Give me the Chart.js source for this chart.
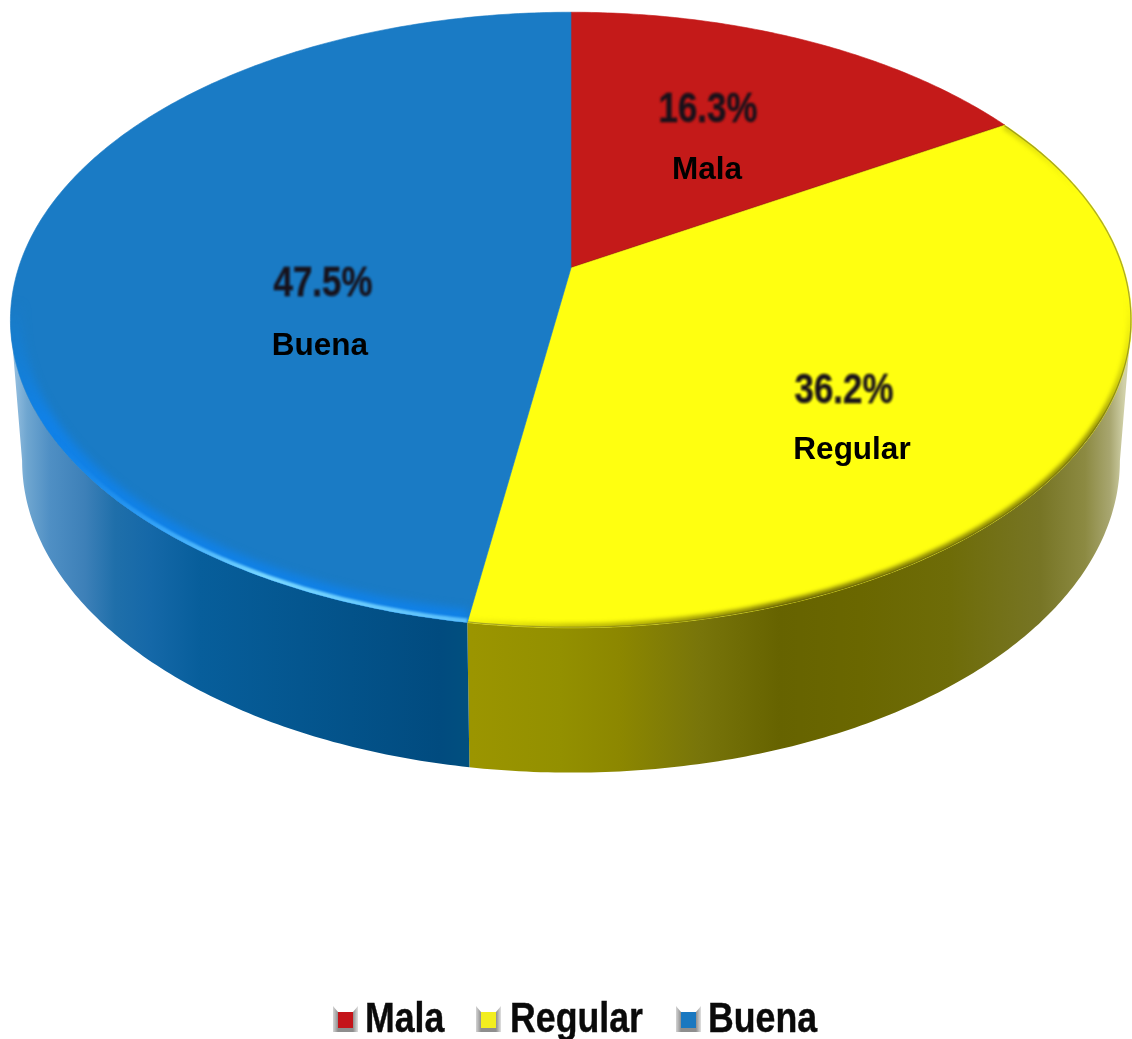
<!DOCTYPE html>
<html>
<head>
<meta charset="utf-8">
<title>Mala / Regular / Buena</title>
<script src="https://cdn.jsdelivr.net/npm/chart.js@4"></script>
<style>
  html, body { margin: 0; padding: 0; background: #fff; }
  canvas { display: block; }
</style>
</head>
<body>
<canvas id="pie" width="1132" height="1039"></canvas>
<script>
const categories = ["Mala", "Regular", "Buena"];
const percentages = [16.3, 36.2, 47.5];

const topColors = ["#c41a19", "#ffff10", "#1a7bc5"];
const legendColors = ["#c4141a", "#f2ee20", "#1a78c0"];

// Horizontal shading of the side wall, [x, colour]
const wallShades = [
  [[0, "#7d1010"], [1132, "#7d1010"]],
  [[472, "#9b9500"], [560, "#939000"], [620, "#8c8700"], [700, "#78750a"], [780, "#666300"], [860, "#6a6700"],
   [950, "#6e6c08"], [1040, "#777525"], [1085, "#8c8a42"], [1110, "#a8a670"], [1124, "#d0d0a8"]],
  [[16, "#8fbbdd"], [27, "#6fa6d0"], [50, "#4f8fc4"], [85, "#3d80b8"], [115, "#1f6faa"],
   [150, "#1568a8"], [200, "#075e9b"], [300, "#04568f"], [440, "#014b7f"], [471, "#01507f"]]
];

// Where the circle ends up on the canvas: top face and bottom face
const topFace = { x: 571, y: 268, a: 552.5, b: 299, k: 0.169 };
const bottomFace = { x: 571, y: 408, a: 541, b: 303, k: 0.169 };

// Text block centres for each slice
const percentAt = [[708, 110], [844, 391], [323, 284]];
const nameAt = [[707, 170], [852, 450], [320, 346]];
const legendAt = [[333, 365], [476, 510], [676, 708]];

function project(face, angle, r) {
  // Chart.js angles start at -PI/2 (12 o'clock)
  const t = angle + Math.PI / 2;
  const X = Math.sin(t) * r;
  const Y = Math.cos(t) * r;
  const d = 1 + face.k * Y;
  return [face.x + face.a * X / d, face.y - face.b * Y / d];
}

function traceRim(ctx, face, from, to) {
  const steps = Math.max(2, Math.ceil(Math.abs(to - from) * 90));
  for (let i = 0; i <= steps; i++) {
    const p = project(face, from + (to - from) * i / steps, 1);
    ctx.lineTo(p[0], p[1]);
  }
}

// Only the part of the wall between the two tangent edges faces the viewer
function drawWall(ctx, arc, i) {
  const tangent = Math.acos(-topFace.k);
  const from = Math.max(arc.startAngle, -Math.PI / 2 + tangent);
  const to = Math.min(arc.endAngle, 1.5 * Math.PI - tangent);
  if (to <= from) return;
  const grad = ctx.createLinearGradient(0, 0, 1132, 0);
  wallShades[i].forEach(s => grad.addColorStop(s[0] / 1132, s[1]));
  ctx.beginPath();
  traceRim(ctx, topFace, from, to);
  traceRim(ctx, bottomFace, to, from);
  ctx.closePath();
  ctx.fillStyle = grad;
  ctx.fill();
}

function traceSlice(ctx, arc) {
  ctx.beginPath();
  ctx.moveTo(topFace.x, topFace.y);
  traceRim(ctx, topFace, arc.startAngle, arc.endAngle);
  ctx.closePath();
}

function strokeRim(ctx, arc, from, to, width, style, blur) {
  ctx.save();
  traceSlice(ctx, arc);
  ctx.clip();
  ctx.beginPath();
  traceRim(ctx, topFace, from, to);
  ctx.lineWidth = width;
  ctx.strokeStyle = style;
  ctx.lineCap = "butt";
  if (blur) ctx.filter = "blur(" + blur + "px)";
  ctx.stroke();
  ctx.restore();
}

function drawTop(ctx, arc, i) {
  traceSlice(ctx, arc);
  ctx.fillStyle = topColors[i];
  ctx.fill();
  ctx.strokeStyle = topColors[i];
  ctx.lineWidth = 0.6;
  ctx.stroke();

  if (i === 1) {
    // thin olive edge on the back, soft dark lip along the front
    strokeRim(ctx, arc, arc.startAngle, arc.endAngle, 2.5, "rgba(140,140,50,0.75)", 0);
    const g = ctx.createLinearGradient(1130, 300, 470, 622);
    g.addColorStop(0, "rgba(110,105,0,0)");
    g.addColorStop(0.12, "rgba(110,105,0,0.7)");
    g.addColorStop(0.6, "rgba(105,100,0,0.9)");
    g.addColorStop(0.88, "rgba(150,145,0,0.55)");
    g.addColorStop(1, "rgba(170,165,0,0.1)");
    strokeRim(ctx, arc, arc.startAngle, arc.endAngle, 9, g, 2);
  }
  if (i === 2) {
    // soft inner glow and bright highlight on the blue rim
    const glow = ctx.createLinearGradient(0, 300, 0, 420);
    glow.addColorStop(0, "rgba(15,130,225,0)");
    glow.addColorStop(1, "rgba(15,130,235,0.9)");
    strokeRim(ctx, arc, arc.startAngle, arc.startAngle + 1.9, 26, glow, 4);
    const hi = ctx.createLinearGradient(60, 420, 470, 622);
    hi.addColorStop(0, "rgba(30,140,235,0)");
    hi.addColorStop(0.3, "rgba(60,170,250,0.85)");
    hi.addColorStop(0.55, "rgba(120,215,255,1)");
    hi.addColorStop(1, "rgba(90,190,250,1)");
    strokeRim(ctx, arc, arc.startAngle, arc.startAngle + 1.6, 8, hi, 0.8);
  } else if (i === 0) {
    // dark seam where red meets yellow
    ctx.beginPath();
    ctx.moveTo(topFace.x, topFace.y);
    const end = project(topFace, arc.endAngle, 1);
    ctx.lineTo(end[0], end[1]);
    ctx.strokeStyle = "rgba(120,30,10,0.7)";
    ctx.lineWidth = 1.6;
    ctx.stroke();
  }
}

// Bold text squeezed horizontally, as the percentages and the legend are condensed
function narrowText(ctx, text, x, y, align, squeeze) {
  ctx.save();
  ctx.translate(x, y);
  ctx.scale(squeeze, 1);
  ctx.textAlign = align;
  ctx.lineWidth = 0.4;
  ctx.strokeStyle = ctx.fillStyle;
  ctx.strokeText(text, 0, 0);
  ctx.fillText(text, 0, 0);
  ctx.restore();
}

function drawLabels(ctx, meta) {
  ctx.save();
  ctx.textBaseline = "middle";
  meta.data.forEach((arc, i) => {
    ctx.save();
    ctx.filter = "blur(0.8px)";
    ctx.font = 'bold 42px "Liberation Sans", Arial';
    ctx.fillStyle = "#17111a";
    narrowText(ctx, percentages[i].toFixed(1) + "%", percentAt[i][0], percentAt[i][1], "center", 0.83);
    ctx.restore();
    ctx.font = 'bold 31.5px "Liberation Sans", Arial';
    ctx.fillStyle = "#000";
    ctx.textAlign = "center";
    ctx.fillText(categories[i], nameAt[i][0], nameAt[i][1]);
  });
  ctx.restore();
}

function drawLegend(ctx) {
  const y = 1005;
  categories.forEach((name, i) => {
    const x = legendAt[i][0];
    const side = ctx.createLinearGradient(x, 0, x + 25, 0);
    side.addColorStop(0, "#d4d4d4");
    side.addColorStop(0.2, "#8e8e8e");
    side.addColorStop(0.8, "#8e8e8e");
    side.addColorStop(1, "#e0e0e0");
    ctx.save();
    ctx.filter = "blur(0.6px)";
    ctx.fillStyle = side;
    ctx.beginPath();
    ctx.moveTo(x, y + 1);
    ctx.lineTo(x + 5, y + 7);
    ctx.lineTo(x + 20, y + 7);
    ctx.lineTo(x + 25, y + 1);
    ctx.lineTo(x + 25, y + 27);
    ctx.lineTo(x, y + 27);
    ctx.closePath();
    ctx.fill();
    ctx.fillStyle = legendColors[i];
    ctx.fillRect(x + 5, y + 7, 15, 16);
    ctx.font = 'bold 42px "Liberation Sans", Arial';
    ctx.textBaseline = "alphabetic";
    ctx.fillStyle = "#0a0a0a";
    narrowText(ctx, name, legendAt[i][1], 1032, "left", 0.85);
    ctx.restore();
  });
}

// Replaces the flat arc drawing with a tilted disc built from the arc angles
const tiltedPie = {
  id: "tiltedPie",
  beforeDatasetsDraw(chart) {
    const ctx = chart.ctx;
    const meta = chart.getDatasetMeta(0);
    meta.data.forEach((arc, i) => drawWall(ctx, arc, i));
    meta.data.forEach((arc, i) => drawTop(ctx, arc, i));
    drawLabels(ctx, meta);
    drawLegend(ctx);
    return false;
  }
};

new Chart(document.getElementById("pie"), {
  type: "pie",
  data: {
    labels: categories,
    datasets: [{ data: percentages, backgroundColor: topColors, borderWidth: 0 }]
  },
  options: {
    responsive: false,
    animation: false,
    plugins: { legend: { display: false }, tooltip: { enabled: false } }
  },
  plugins: [tiltedPie]
});
</script>
</body>
</html>
